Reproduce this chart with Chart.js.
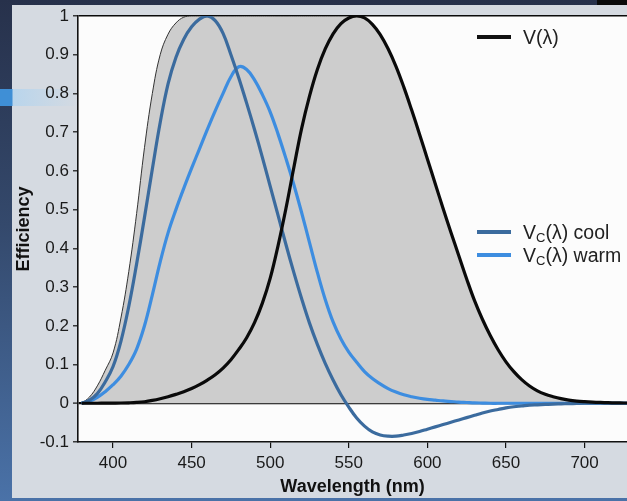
<!DOCTYPE html>
<html>
<head>
<meta charset="utf-8">
<script src="https://cdn.jsdelivr.net/npm/chart.js@4.4.1/dist/chart.umd.min.js"></script>
<style>
  html, body { margin: 0; padding: 0; }
  body { width: 627px; height: 501px; position: relative; overflow: hidden;
         background: linear-gradient(to bottom, #27314b 0%, #34496c 45%, #4a72a8 100%);
         font-family: "Liberation Sans", Arial, sans-serif; }
  #panel { position: absolute; left: 12px; top: 5px; width: 615px; height: 493px; background: #d5dae1; }
  #bar { position: absolute; left: 0; top: 89px; width: 80px; height: 17px;
         background: linear-gradient(to right, #3f8fd6 0px, #3f8fd6 12px, #b9d5ec 13px, #d5dae1 80px); }
  #corner { position: absolute; left: 597px; top: 0; width: 30px; height: 5px; background: #0a0a0a; }
  #c { position: absolute; left: 0; top: 0; }
  .leg { position: absolute; left: 477px; height: 22px; font-size: 19.5px; color: #222; white-space: nowrap; }
  .leg .ln { position: absolute; left: 0; width: 34px; height: 4px; top: 9px; }
  .leg .tx { position: absolute; left: 46px; top: 0; line-height: 22px; }
  .leg sub { font-size: 13px; vertical-align: -3px; line-height: 0; }
</style>
</head>
<body>
<div id="panel"></div>
<div id="bar"></div>
<div id="corner"></div>
<canvas id="c" width="627" height="501"></canvas>
<div class="leg" style="top:26px"><div class="ln" style="background:#111"></div><div class="tx">V(λ)</div></div>
<div class="leg" style="top:221px"><div class="ln" style="background:#3b6b9e"></div><div class="tx">V<sub>C</sub>(λ) cool</div></div>
<div class="leg" style="top:244px"><div class="ln" style="background:#3d8de0"></div><div class="tx">V<sub>C</sub>(λ) warm</div></div>
<script>
const wavelengths = [380,385,390,395,400,405,410,415,420,425,430,435,440,445,450,455,460,465,470,475,480,485,490,495,500,505,510,515,520,525,530,535,540,545,550,555,560,565,570,575,580,585,590,595,600,605,610,615,620,625,630,635,640,645,650,655,660,665,670,675,680,685,690,695,700,705,710,715,720,725,730];

const photopicV = [0.000039,0.000064,0.00012,0.000217,0.000396,0.00064,0.00121,0.00218,0.004,0.0073,0.0116,0.01684,0.023,0.0298,0.038,0.048,0.06,0.0739,0.09098,0.1126,0.13902,0.1693,0.20802,0.2586,0.323,0.4073,0.503,0.6082,0.71,0.7932,0.862,0.91485,0.954,0.9803,0.99495,1.0,0.995,0.9786,0.952,0.9154,0.87,0.8163,0.757,0.6949,0.631,0.5668,0.503,0.4412,0.381,0.321,0.265,0.217,0.175,0.1382,0.107,0.0816,0.061,0.04458,0.032,0.0232,0.017,0.01192,0.00821,0.005723,0.004102,0.002929,0.002091,0.001484,0.001047,0.00074,0.00052];

const coolVc = [0,0.008,0.025,0.055,0.095,0.16,0.25,0.36,0.48,0.605,0.725,0.825,0.893,0.94,0.972,0.992,1.0,0.988,0.955,0.9,0.84,0.775,0.707,0.635,0.56,0.485,0.41,0.338,0.27,0.207,0.152,0.103,0.06,0.022,-0.01,-0.038,-0.059,-0.074,-0.082,-0.085,-0.085,-0.082,-0.078,-0.073,-0.067,-0.061,-0.055,-0.049,-0.043,-0.037,-0.031,-0.025,-0.02,-0.016,-0.012,-0.009,-0.007,-0.005,-0.004,-0.003,-0.002,-0.0015,-0.001,-0.0005,0,0,0,0,0,0,0];

const warmVc = [0,0.005,0.015,0.03,0.048,0.07,0.1,0.14,0.2,0.28,0.365,0.44,0.5,0.555,0.607,0.657,0.707,0.755,0.8,0.843,0.869,0.862,0.835,0.797,0.752,0.695,0.632,0.565,0.492,0.415,0.338,0.268,0.21,0.166,0.132,0.106,0.082,0.064,0.05,0.038,0.029,0.022,0.017,0.013,0.01,0.008,0.006,0.0045,0.003,0.002,0.001,0.0005,0,0,0,0,0,0,0,0,0,0,0,0,0,0,0,0,0,0,0];

const envelope = [0,0.016,0.045,0.085,0.13,0.22,0.34,0.49,0.66,0.8,0.9,0.953,0.982,0.997,1,1,1,1,1,1,1,1,1,1,1,1,1,1,1,1,1,1,1,1,1,1,0.995,0.9786,0.952,0.9154,0.87,0.8163,0.757,0.6949,0.631,0.5668,0.503,0.4412,0.381,0.321,0.265,0.217,0.175,0.1382,0.107,0.0816,0.061,0.04458,0.032,0.0232,0.017,0.01192,0.00821,0.005723,0.004102,0.002929,0.002091,0.001484,0.001047,0.00074,0.00052];

const xTicks = [400,450,500,550,600,650,700];
const yTicks = [-0.1,0,0.1,0.2,0.3,0.4,0.5,0.6,0.7,0.8,0.9,1];
const yTickLabels = ['-0.1','0','0.1','0.2','0.3','0.4','0.5','0.6','0.7','0.8','0.9','1'];

const pts = arr => wavelengths.map((w, i) => ({x: w, y: arr[i]}));

const areaBg = {
  id: 'areaBg',
  beforeDraw(chart) {
    const {ctx, chartArea: a} = chart;
    ctx.save();
    ctx.fillStyle = '#fcfcfc';
    ctx.fillRect(a.left, a.top, a.right - a.left, a.bottom - a.top);
    ctx.restore();
  }
};

const tickFont = {family: '"Liberation Sans", Arial, sans-serif', size: 17};
const titleFont = {family: '"Liberation Sans", Arial, sans-serif', size: 18, weight: 'bold'};

new Chart(document.getElementById('c'), {
  type: 'line',
  data: {
    datasets: [
      {label: 'V(λ)', data: pts(photopicV), borderColor: '#0a0a0a', borderWidth: 3.2, pointRadius: 0, fill: false, tension: 0.4},
      {label: 'Vc cool', data: pts(coolVc), borderColor: '#3b6b9e', borderWidth: 3.2, pointRadius: 0, fill: false, tension: 0.4},
      {label: 'Vc warm', data: pts(warmVc), borderColor: '#3d8de0', borderWidth: 3.2, pointRadius: 0, fill: false, tension: 0.4},
      {label: 'envelope', data: pts(envelope), borderColor: '#333', borderWidth: 1, pointRadius: 0, fill: 'origin', backgroundColor: '#cdcdcd', tension: 0.4}
    ]
  },
  options: {
    responsive: false,
    animation: false,
    devicePixelRatio: 1,
    layout: {padding: {left: 13, top: 16, right: 0, bottom: 3}},
    plugins: {legend: {display: false}, tooltip: {enabled: false}},
    scales: {
      x: {
        type: 'linear', min: 377.7, max: 727,
        afterBuildTicks: s => { s.ticks = xTicks.map(v => ({value: v})); },
        afterFit: s => { s.height = 56; },
        ticks: {font: tickFont, color: '#1a1a1a', padding: 5, maxRotation: 0, autoSkip: false},
        grid: {drawOnChartArea: false, color: '#111', tickLength: 6, lineWidth: 1.2},
        border: {display: true, color: '#111', width: 1.6},
        title: {display: true, text: 'Wavelength (nm)', font: titleFont, color: '#111', padding: {top: 0, bottom: 0}}
      },
      y: {
        type: 'linear', min: -0.1, max: 1,
        afterBuildTicks: s => { s.ticks = yTicks.map(v => ({value: v})); },
        afterFit: s => { s.width = 65; },
        ticks: {font: tickFont, color: '#1a1a1a', padding: 4, autoSkip: false,
                callback: (v, i) => yTickLabels[i]},
        grid: {
          drawOnChartArea: true,
          color: c => (c.tick && (Math.abs(c.tick.value) < 1e-9 || Math.abs(c.tick.value - 1) < 1e-9)) ? '#0a0a0a' : 'rgba(0,0,0,0)',
          lineWidth: c => (c.tick && Math.abs(c.tick.value) < 1e-9) ? 2.2 : 1.6,
          tickColor: '#111', tickWidth: 1.2, tickLength: 5
        },
        border: {display: true, color: '#111', width: 1.6},
        title: {display: true, text: 'Efficiency', font: titleFont, color: '#111', padding: {top: 0, bottom: 0}}
      }
    }
  },
  plugins: [areaBg]
});
</script>
</body>
</html>
